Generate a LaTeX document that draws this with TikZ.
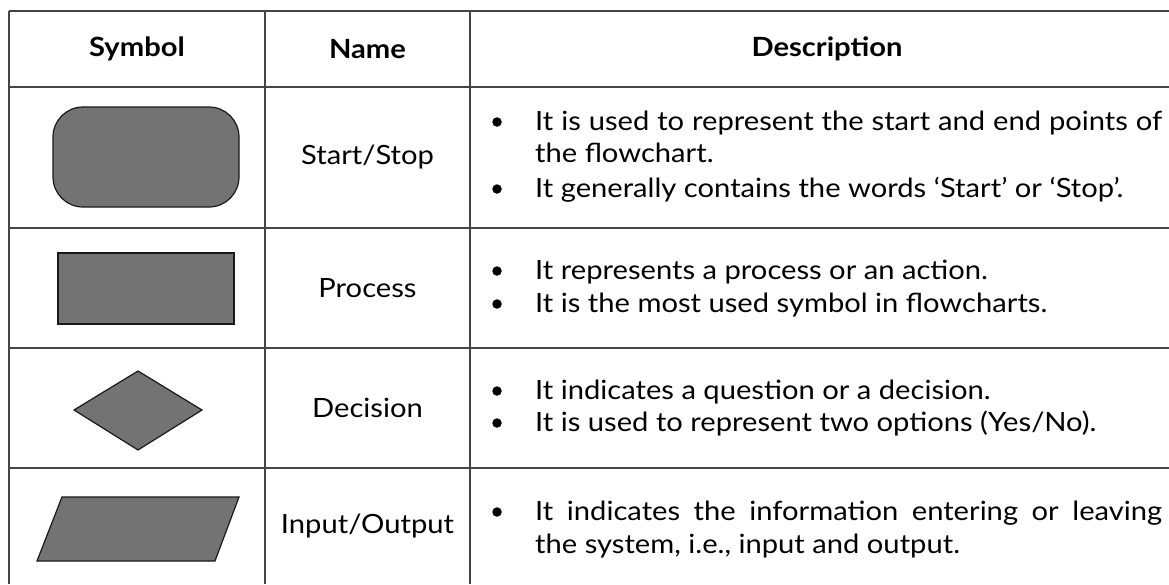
\documentclass[tikz,border=0pt]{standalone}
\usepackage{fontspec}
\setmainfont{Lato}[FakeStretch=1.1]
\definecolor{symgray}{HTML}{737373}
\definecolor{gridc}{HTML}{444444}
\begin{document}
\begin{tikzpicture}[x=1pt,y=-1pt,
  grid/.style={draw=gridc, line width=1.4pt},
  sym/.style={fill=symgray, draw=black!90, line width=1.2pt},
  txt/.style={font=\fontsize{26.5}{32}\selectfont, inner sep=0pt, anchor=base west},
  nm/.style={font=\fontsize{26.5}{32}\selectfont, inner sep=0pt},
  hd/.style={font=\fontsize{26.5}{32}\selectfont\bfseries, inner sep=0pt},
  bul/.style={circle, fill=black, inner sep=0pt, minimum size=9.5pt}]
\useasboundingbox (0,0) rectangle (1169,584);
% grid
\draw[grid] (9,11) -- (1169,11);
\foreach \yy in {87,228,348,468} \draw[grid] (9,\yy) -- (1169,\yy);
\foreach \xx in {9,265,470} \draw[grid] (\xx,11) -- (\xx,584);
% header
\node[hd] (h1) at (137,49) {Symbol};
\node[hd] (h2) at (367.5,49) {Name};
\node[hd] (h3) at (827,49) {Description};
% symbols
\draw[sym, rounded corners=30pt] (53,107) rectangle (239,207);
\draw[sym] (58,253) rectangle (234,324);
\draw[sym] (138,371) -- (202,410) -- (138,450) -- (74,410) -- cycle;
\draw[sym] (62,497) -- (239,497) -- (215,561) -- (37,561) -- cycle;
% names
\node[nm] (n1) at (367.5,157.5) {Start/Stop};
\node[nm] (n2) at (367.5,288) {Process};
\node[nm] (n3) at (367.5,408) {Decision};
\node[nm] (n4) at (367.5,526) {Input/Output};
% descriptions
\node[bul] (b1) at (497,122) {};
\node[txt] (d1a) at (535,130) {\makebox[627pt][s]{It is used to represent the start and end points of}};
\node[txt] (d1b) at (535,162) {the flowchart.};
\node[bul] (b2) at (497,189) {};
\node[txt] (d1c) at (535,197) {It generally contains the words ‘Start’ or ‘Stop’.};
\node[bul] (b3) at (497,271) {};
\node[txt] (d2a) at (535,279) {It represents a process or an action.};
\node[bul] (b4) at (497,304) {};
\node[txt] (d2b) at (535,312) {It is the most used symbol in flowcharts.};
\node[bul] (b5) at (497,391) {};
\node[txt] (d3a) at (535,399) {It indicates a question or a decision.};
\node[bul] (b6) at (497,423) {};
\node[txt] (d3b) at (535,431) {It is used to represent two options (Yes/No).};
\node[bul] (b7) at (497,512) {};
\node[txt] (d4a) at (535,520) {\makebox[627pt][s]{It indicates the information entering or leaving}};
\node[txt] (d4b) at (535,553) {the system, i.e., input and output.};
\end{tikzpicture}
\end{document}
